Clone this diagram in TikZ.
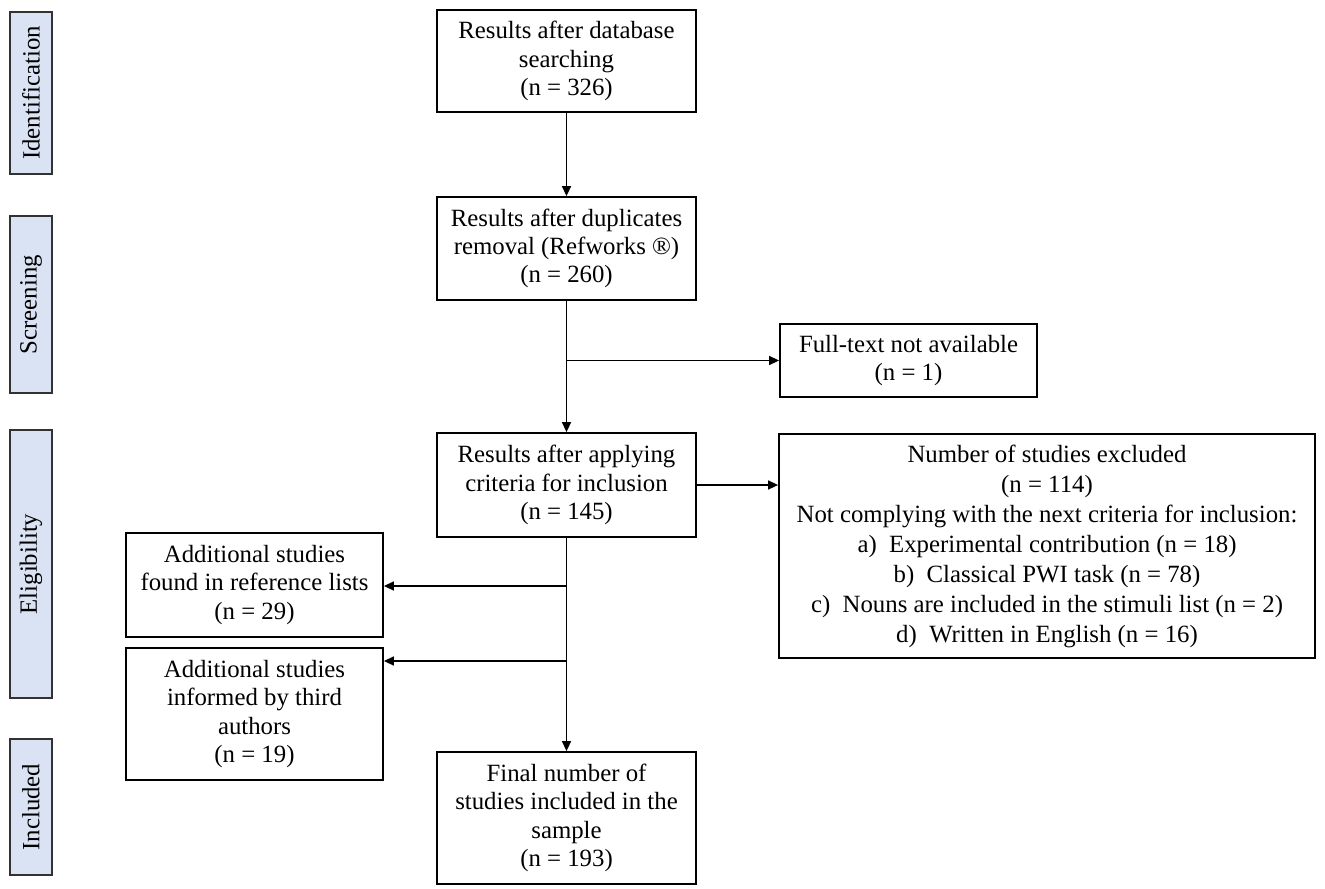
\documentclass[tikz,border=0pt]{standalone}
\usepackage{fontspec}
\setmainfont{Liberation Serif}
\usepackage{xcolor}
\usetikzlibrary{arrows.meta}
\definecolor{phase}{RGB}{218,227,243}
\definecolor{phaseline}{RGB}{50,50,50}
\tikzstyle{box}=[draw, line width=0.9pt, align=center, inner sep=2pt, font=\fontsize{12.4}{14.2}\selectfont]
\tikzstyle{phasebar}=[draw=phaseline, fill=phase, line width=0.9pt, minimum height=21pt, rotate=90, font=\fontsize{12.4}{14.2}\selectfont]
\tikzstyle{flow}=[-{Triangle[length=5pt,width=4.5pt]}, line width=0.75pt]

\begin{document}
\begin{tikzpicture}[x=0.5pt,y=-0.5pt]
  \useasboundingbox (0,0) rectangle (1325,888);
  %% Phases
  \draw (31,93) node[phasebar,minimum width=81pt] (Ident) {Identification};
  \draw (31,304.5) node[phasebar,minimum width=88.5pt] (Screen) {Screening};
  \draw (31,564) node[phasebar,minimum width=134pt] (Elig) {Eligibility};
  \draw (31,807) node[phasebar,minimum width=68pt] (Incl) {Included};

  %% Main column
  \draw (566.5,61) node[box,minimum width=129.5pt,minimum height=51pt] (Search) {Results after database\\searching\\(n = 326)};
  \draw (566.5,248.5) node[box,minimum width=129.5pt,minimum height=51.5pt] (Dupl) {Results after duplicates\\removal (Refworks ®)\\(n = 260)};
  \draw (566.5,485) node[box,minimum width=129.5pt,minimum height=52pt] (Crit) {Results after applying\\criteria for inclusion\\(n = 145)};
  \draw (566.5,818) node[box,minimum width=129.5pt,minimum height=66pt] (Final) {Final number of\\studies included in the\\sample\\(n = 193)};

  %% Side boxes
  \draw (908.5,360.5) node[box,minimum width=128.5pt,minimum height=36.5pt] (NoText) {Full-text not available\\(n = 1)};
  \draw (1047,546) node[box,minimum width=268pt,minimum height=112pt,font=\fontsize{12.4}{15}\selectfont] (Excl) {Number of studies excluded\\(n = 114)\\Not complying with the next criteria for inclusion:\\a)\ \ Experimental contribution (n = 18)\\b)\ \ Classical PWI task (n = 78)\\c)\ \ Nouns are included in the stimuli list (n = 2)\\d)\ \ Written in English (n = 16)};
  \draw (254.5,585) node[box,minimum width=128.5pt,minimum height=52pt] (RefList) {Additional studies\\found in reference lists\\(n = 29)};
  \draw (254.5,714) node[box,minimum width=128.5pt,minimum height=66pt] (Authors) {Additional studies\\informed by third\\authors\\(n = 19)};

  %% Branch points
  \coordinate (B1) at (Dupl.south |- NoText.west);
  \coordinate (B2) at (566.5,586);
  \coordinate (B3) at (566.5,661);

  %% Arrows
  \draw[flow] (Search) -- (Dupl);
  \draw[flow] (Dupl) -- (Crit);
  \draw[flow] (B1) -- (NoText.west);
  \draw[flow] (Crit.east) -- (Crit.east -| Excl.west);
  \draw[flow] (Crit) -- (Final);
  \draw[flow] (B2) -- (B2 -| RefList.east);
  \draw[flow] (B3) -- (B3 -| Authors.east);
\end{tikzpicture}
\end{document}
